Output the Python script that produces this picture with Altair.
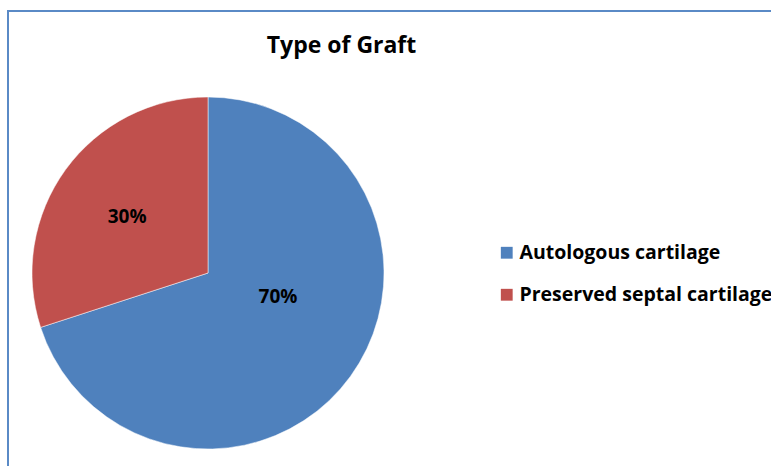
import altair as alt
import pandas as pd

categories = ["Autologous cartilage", "Preserved septal cartilage"]
values = [70, 30]
labels = ["70%", "30%"]
colors = ["#4F81BD", "#C0504D"]

df = pd.DataFrame({"cat": categories, "val": values, "label": labels, "order": [0, 1]})

FONT = "Open Sans"

base = alt.Chart(df)

border = alt.Chart(pd.DataFrame({"a": [0]})).mark_rect(
    fill="white", stroke="#5A8AC6", strokeWidth=2
).encode(x=alt.value(8), y=alt.value(11), x2=alt.value(800), y2=alt.value(520))

pie = base.mark_arc(radius=176, stroke="white", strokeWidth=0.5).encode(
    theta=alt.Theta("val:Q", stack=True),
    order=alt.Order("order:Q"),
    color=alt.Color(
        "cat:N",
        scale=alt.Scale(domain=categories, range=colors),
        legend=alt.Legend(
            title=None,
            orient="none",
            legendX=497,
            legendY=243,
            symbolType="square",
            symbolSize=140,
            symbolStrokeWidth=0,
            labelFont=FONT,
            labelFontSize=19.5,
            labelFontWeight="bold",
            labelColor="black",
            rowPadding=21,
            labelLimit=400,
            labelOffset=3,
        ),
    ),
    x=alt.value(208),
    y=alt.value(273),
)

txt70 = alt.Chart(df[df["cat"] == categories[0]]).mark_text(
    font=FONT, fontSize=19, fontWeight="bold", color="black", dx=70, dy=24
).encode(text="label:N", x=alt.value(208), y=alt.value(273))

txt = base.mark_text(
    radius=100, font=FONT, fontSize=19, fontWeight="bold", color="black", dy=3
).encode(
    theta=alt.Theta("val:Q", stack=True),
    order=alt.Order("order:Q"),
    text="label:N",
    x=alt.value(208),
    y=alt.value(273),
    opacity=alt.condition(alt.datum.cat == categories[1], alt.value(1), alt.value(0)),
)

chart = alt.layer(border, pie, txt, txt70).properties(
    width=771,
    height=466,
    autosize=alt.AutoSizeParams(type="none"),
    padding=0,
    title=alt.TitleParams(
        "Type of Graft",
        font=FONT,
        fontSize=23,
        fontWeight="bold",
        color="black",
        anchor="middle",
        dx=-44,
        offset=-58,
        orient="top",
    ),
).configure_view(stroke=None)

chart.save("out.html", embed_options={"renderer": "svg", "actions": False})
